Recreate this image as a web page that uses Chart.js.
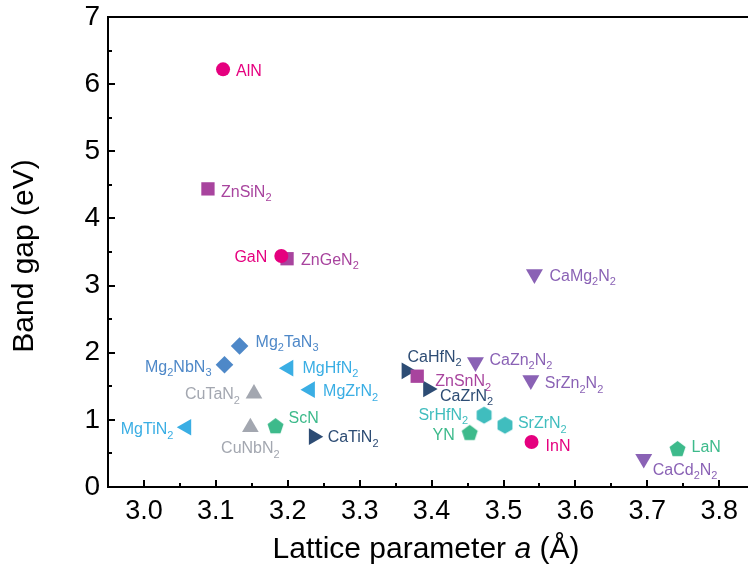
<!DOCTYPE html>
<html><head><meta charset="utf-8">
<script src="https://cdn.jsdelivr.net/npm/chart.js@4.4.0/dist/chart.umd.min.js"></script>
<style>html,body{margin:0;padding:0;background:#fff;overflow:hidden}canvas{display:block}</style>
</head><body><canvas id="c" width="748" height="570" style="width:748px;height:570px"></canvas>
<script>
// ---------------- data ----------------
const compounds = ['AlN','GaN','InN','ZnSiN2','ZnGeN2','ZnSnN2','CaMg2N2','CaZn2N2','SrZn2N2','CaCd2N2','Mg2TaN3','Mg2NbN3','MgHfN2','MgZrN2','MgTiN2','CuTaN2','CuNbN2','ScN','YN','LaN','CaTiN2','CaHfN2','CaZrN2','SrHfN2','SrZrN2'];
const latticeA  = [3.110,3.191,3.539,3.089,3.199,3.380,3.543,3.461,3.538,3.695,3.133,3.112,3.201,3.231,3.059,3.153,3.148,3.183,3.453,3.742,3.236,3.365,3.395,3.473,3.502];
const bandGap   = [6.22,3.44,0.67,4.44,3.40,1.65,3.17,1.86,1.59,0.42,2.10,1.82,1.77,1.45,0.89,1.39,0.89,0.90,0.80,0.56,0.75,1.73,1.46,1.07,0.92];
const family    = ['IIIN','IIIN','IIIN','ZnIV','ZnIV','ZnIV','AEII','AEII','AEII','AEII','Mg2M','Mg2M','MgM','MgM','MgM','CuM','CuM','RS','RS','RS','CaM','CaM','CaM','SrM','SrM'];
const families  = ['IIIN','ZnIV','CaM','SrM','RS','AEII','Mg2M','MgM','CuM'];
const xTicks = [3.0,3.1,3.2,3.3,3.4,3.5,3.6,3.7,3.8];
const yTicks = [0,1,2,3,4,5,6,7];

// ---------------- styles ----------------
function poly(n, R, color){
  const s = Math.ceil(2*R+2), c = document.createElement('canvas');
  c.width = c.height = s; const g = c.getContext('2d');
  g.fillStyle = color; g.beginPath();
  for(let i=0;i<n;i++){const t=-Math.PI/2+i*2*Math.PI/n; const px=s/2+R*Math.cos(t), py=s/2+R*Math.sin(t); i?g.lineTo(px,py):g.moveTo(px,py);}
  g.closePath(); g.fill(); return c;
}
const famStyle = {
  IIIN:{color:'#E5007F', label:'#E5007F', ps:'circle', r:7, rot:0},
  ZnIV:{color:'#A8449E', label:'#A8449E', ps:'rect', r:9.4, rot:0},
  AEII:{color:'#8A62B5', label:'#8A62B5', ps:'triangle', r:9.8, rot:180},
  Mg2M:{color:'#4E88C8', label:'#4E88C8', ps:'rectRot', r:8.8, rot:0},
  MgM: {color:'#3AAEE4', label:'#3AAEE4', ps:'triangle', r:9.6, rot:-90},
  CuM: {color:'#A3A7B0', label:'#A3A7B0', ps:'triangle', r:9.6, rot:0},
  RS:  {color:'#3DBA8B', label:'#3DBA8B', ps:null, poly:5, r:8.4, rot:0},
  CaM: {color:'#2D4C74', label:'#2D4C74', ps:'triangle', r:9.6, rot:90},
  SrM: {color:'#40BDBE', label:'#40BDBE', ps:null, poly:6, r:8.6, rot:0}
};
// label placement: [dx, dy, align] relative to marker centre (pixels)
const labelPos = {
  AlN:[13,1,'left'], GaN:[-14,0,'right'], InN:[14,3,'left'],
  ZnSiN2:[13,2,'left'], ZnGeN2:[14,0,'left'], ZnSnN2:[18,4,'left'],
  CaMg2N2:[15,1,'left'], CaZn2N2:[14,-3,'left'], SrZn2N2:[14,2,'left'], CaCd2N2:[9,10,'left'],
  Mg2TaN3:[16,-5,'left'], Mg2NbN3:[-13,1,'right'],
  MgHfN2:[14,-1,'left'], MgZrN2:[13,1,'left'], MgTiN2:[-13,1,'right'],
  CuTaN2:[-14,0,'right'], CuNbN2:[0,20,'center'],
  ScN:[13,-9,'left'], YN:[-15,1,'right'], LaN:[14,-3,'left'],
  CaTiN2:[14,0,'left'], CaHfN2:[1,-15,'left'], CaZrN2:[12,6,'left'],
  SrHfN2:[-16,-1,'right'], SrZrN2:[13,-3,'left']
};
const FONT = '"Liberation Sans", Arial, Helvetica, sans-serif';

const datasets = families.map((f, k) => {
  const st = famStyle[f];
  const idx = compounds.map((c,i)=>i).filter(i=>family[i]===f);
  return {
    label: f,
    data: idx.map(i=>({x:latticeA[i], y:bandGap[i], name:compounds[i]})),
    pointStyle: st.ps || poly(st.poly, st.r, st.color),
    pointRadius: st.r, pointRotation: st.rot,
    backgroundColor: st.color, borderColor: st.color, borderWidth: 0,
    showLine: false, order: k
  };
});

function drawChem(ctx, text, x, y, align, color){
  const parts = text.match(/[A-Za-z]+|\d+/g);
  const big = '16px ' + FONT, small = '11px ' + FONT;
  let w = 0;
  parts.forEach(p=>{ctx.font = /\d/.test(p)?small:big; w += ctx.measureText(p).width;});
  let sx = align==='right' ? x-w : align==='center' ? x-w/2 : x;
  const base = y + 5.8;
  ctx.fillStyle = color; ctx.textAlign='left'; ctx.textBaseline='alphabetic';
  parts.forEach(p=>{const sub=/\d/.test(p); ctx.font = sub?small:big; ctx.fillText(p, sx, sub?base+4.5:base); sx += ctx.measureText(p).width;});
}

const deco = {
  id:'deco',
  afterDraw(chart){
    const {ctx, chartArea:a, scales:{x, y}} = chart;
    ctx.save();
    ctx.strokeStyle = '#000'; ctx.lineWidth = 2; ctx.lineCap='butt';
    ctx.beginPath(); ctx.moveTo(a.left-1, a.top); ctx.lineTo(chart.width, a.top); ctx.stroke();
    // inward ticks
    const step = xTicks[1]-xTicks[0];
    const xt = [];
    xTicks.forEach(v=>{xt.push([v,6]); xt.push([v+step/2,3]);});
    xt.forEach(([v,L])=>{const px=Math.round(x.getPixelForValue(v)); if(px>a.left+1 && px<a.right){ctx.beginPath();ctx.moveTo(px,a.bottom);ctx.lineTo(px,a.bottom-L-1);ctx.stroke();}});
    const yt = [];
    yTicks.forEach(v=>{yt.push([v,6]); yt.push([v+0.5,3]);});
    yt.forEach(([v,L])=>{const py=Math.round(y.getPixelForValue(v)); if(py<a.bottom-1 && py>a.top+1){ctx.beginPath();ctx.moveTo(a.left,py);ctx.lineTo(a.left+L+1,py);ctx.stroke();}});
    // point labels
    chart.data.datasets.forEach((ds, di)=>{
      const meta = chart.getDatasetMeta(di);
      const col = famStyle[ds.label].label;
      meta.data.forEach((el, j)=>{
        const nm = ds.data[j].name; const lp = labelPos[nm];
        drawChem(ctx, nm, el.x+lp[0], el.y+lp[1], lp[2], col);
      });
    });
    // axis titles
    ctx.fillStyle = '#000'; ctx.textBaseline='alphabetic';
    const segs = [['Lattice parameter ','normal'],['a','italic'],[' (Å)','normal']];
    const tf = s => s + ' 30px ' + FONT;
    let tw = 0; segs.forEach(([t,s])=>{ctx.font=tf(s); tw+=ctx.measureText(t).width;});
    let sx = 426 - tw/2;
    ctx.textAlign='left';
    segs.forEach(([t,s])=>{ctx.font=tf(s); ctx.fillText(t, sx, 558); sx+=ctx.measureText(t).width;});
    ctx.save(); ctx.translate(33, 256); ctx.rotate(-Math.PI/2);
    ctx.font = '30px ' + FONT; ctx.textAlign='center'; ctx.fillText('Band gap (eV)', 0, 0);
    ctx.restore();
    ctx.restore();
  }
};

new Chart(document.getElementById('c'), {
  type: 'scatter',
  data: { datasets },
  options: {
    responsive: false, animation: false, events: [], devicePixelRatio: 1,
    layout: { autoPadding: false, padding: { top: 17, right: 0, left: 0, bottom: 0 } },
    plugins: { legend: {display:false}, tooltip: {enabled:false} },
    scales: {
      x: {
        type:'linear', min: 2.95, max: 3.84,
        afterFit: s => { s.height = 83; s.paddingLeft = 0; s.paddingRight = 0; },
        afterBuildTicks: s => { s.ticks = xTicks.map(v=>({value:v})); },
        grid: { display:false, drawTicks:false },
        border: { display:true, color:'#000', width:2 },
        ticks: { color:'#000', padding: 8, font:{family:FONT, size:27}, maxRotation:0, autoSkip:false, callback: v => v.toFixed(1) }
      },
      y: {
        type:'linear', min: 0, max: 7,
        afterFit: s => { s.width = 108; s.paddingTop = 0; s.paddingBottom = 0; },
        afterBuildTicks: s => { s.ticks = yTicks.map(v=>({value:v})); },
        grid: { display:false, drawTicks:false },
        border: { display:true, color:'#000', width:2 },
        ticks: { color:'#000', padding: 8, font:{family:FONT, size:28}, callback: v => String(v) }
      }
    }
  },
  plugins: [deco]
});
</script></body></html>
